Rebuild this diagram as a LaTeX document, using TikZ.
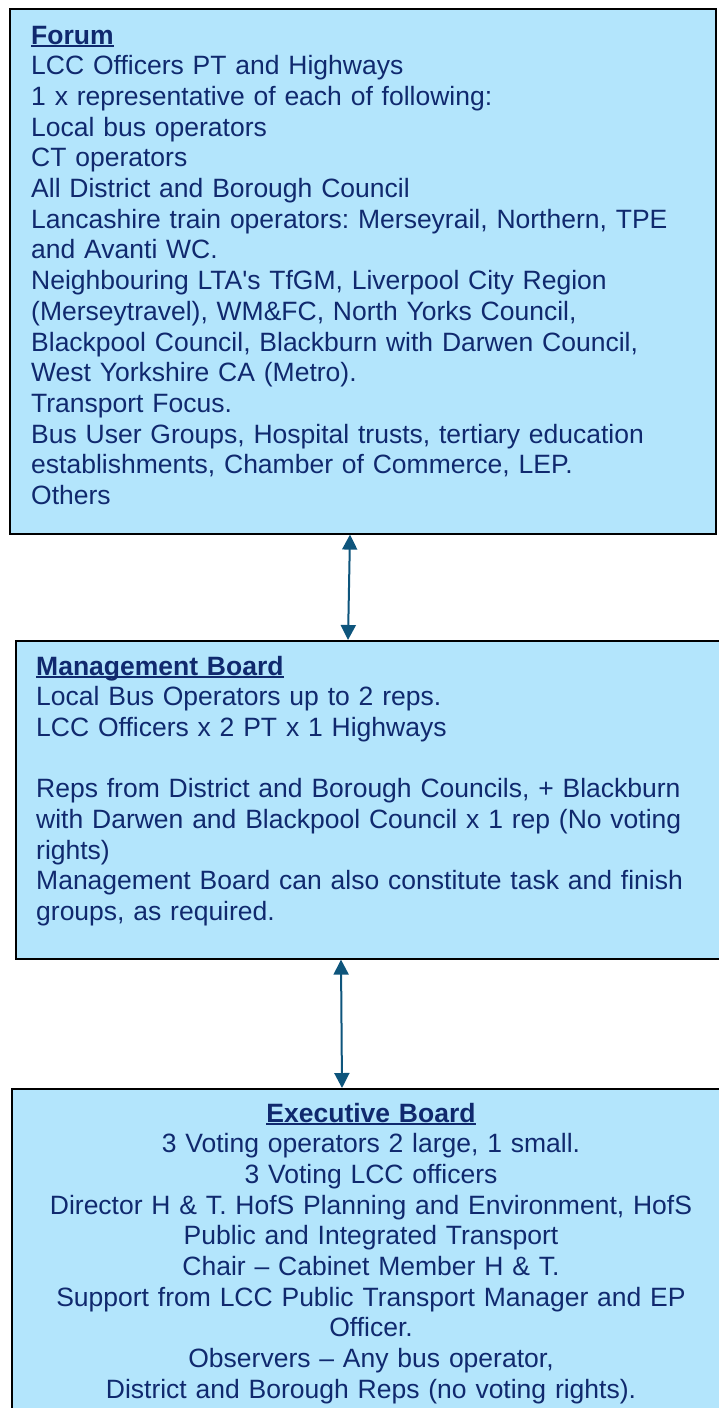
\documentclass[tikz,border=0pt]{standalone}
\usepackage{fontspec}
\setmainfont{Liberation Sans}
\usepackage{xcolor}
\usepackage{tikz}
\usetikzlibrary{arrows.meta}
\frenchspacing

\definecolor{boxblue}{HTML}{B3E5FC}
\definecolor{textnavy}{HTML}{10296E}
\definecolor{arrowteal}{HTML}{0E557C}
\newcommand{\Heading}[1]{\setbox0\hbox{\textbf{#1}}\rlap{\rule[-3.2pt]{\wd0}{2.2pt}}\box0}

\tikzset{
  panel/.style={draw=black, line width=1.6pt, fill=boxblue, inner sep=0pt, anchor=north west},
  paneltext/.style={text=textnavy, inner sep=0pt, font=\fontsize{26.5}{30.7}\selectfont},
  link/.style={draw=arrowteal, line width=2pt, {Triangle[width=15pt,length=15pt]}-{Triangle[width=15pt,length=15pt]}}
}

\begin{document}
\begin{tikzpicture}[x=1pt,y=-1pt]
  \useasboundingbox (0,0) rectangle (719,1408);

  % the three boards
  \node[panel, minimum width=706pt, minimum height=525pt] (Forum) at (9,8) {};
  \node[panel, minimum width=720pt, minimum height=318pt] (Mgmt) at (15,640) {};
  \node[panel, minimum width=720pt, minimum height=360pt] (Exec) at (11,1088) {};

  \node[paneltext, text width=680pt, align=left, anchor=base west] (ForumText) at (31,44) {%
    \Heading{Forum}\\
    LCC Officers PT and Highways\\
    1 x representative of each of following:\\
    Local bus operators\\
    CT operators\\
    All District and Borough Council\\
    Lancashire train operators: Merseyrail, Northern, TPE\\
    and Avanti WC.\\
    Neighbouring LTA\textquotesingle s TfGM, Liverpool City Region\\
    (Merseytravel), WM\&FC, North Yorks Council,\\
    Blackpool Council, Blackburn with Darwen Council,\\
    West Yorkshire CA (Metro).\\
    Transport Focus.\\
    Bus User Groups, Hospital trusts, tertiary education\\
    establishments, Chamber of Commerce, LEP.\\
    Others};

  \node[paneltext, text width=680pt, align=left, anchor=base west] (MgmtText) at (36,675) {%
    \Heading{Management Board}\\
    Local Bus Operators up to 2 reps.\\
    LCC Officers x 2 PT x 1 Highways\\[30.7pt]
    Reps from District and Borough Councils, + Blackburn\\
    with Darwen and Blackpool Council x 1 rep (No voting\\
    rights)\\
    Management Board can also constitute task and finish\\
    groups, as required.};

  \node[paneltext, text width=700pt, align=center, anchor=base] (ExecText) at (371,1122) {%
    \Heading{Executive Board}\\
    3 Voting operators 2 large, 1 small.\\
    3 Voting LCC officers\\
    Director H \& T. HofS Planning and Environment, HofS\\
    Public and Integrated Transport\\
    Chair -- Cabinet Member H \& T.\\
    Support from LCC Public Transport Manager and EP\\
    Officer.\\
    Observers -- Any bus operator,\\
    District and Borough Reps (no voting rights).};

  % links between boards
  \draw[link] (Forum.south -| 350,0) -- (Mgmt.north -| 348,0);
  \draw[link] (Mgmt.south -| 341,0) -- (Exec.north -| 342,0);

\end{tikzpicture}
\end{document}
